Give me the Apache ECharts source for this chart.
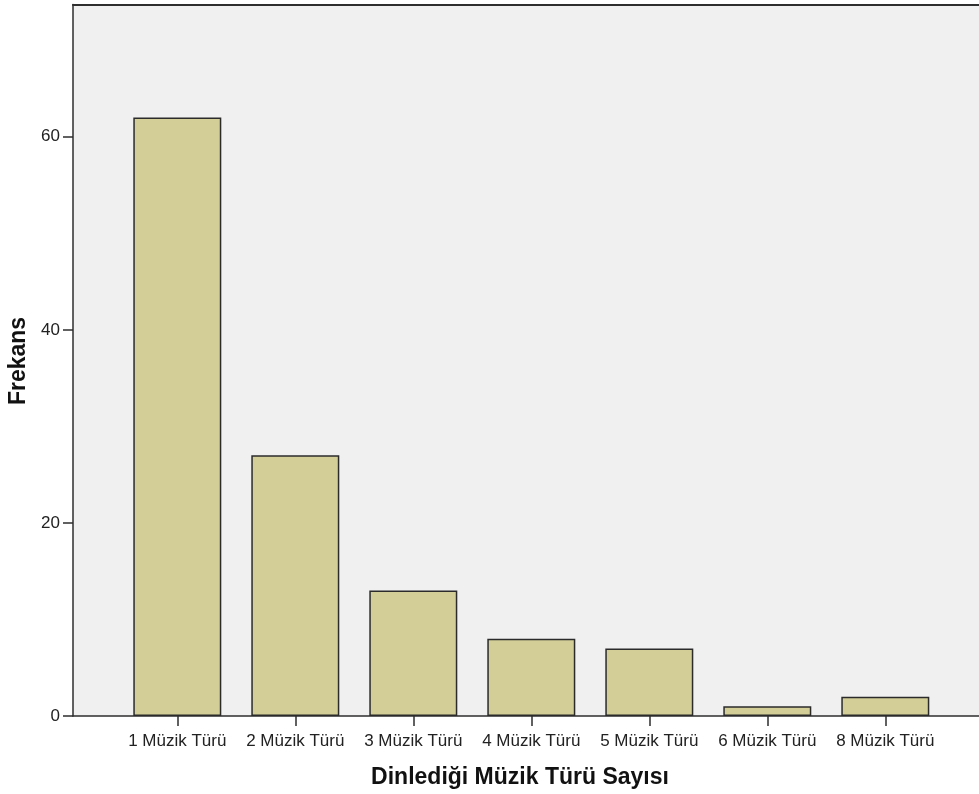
<!DOCTYPE html>
<html><head><meta charset="utf-8">
<script src="https://cdn.jsdelivr.net/npm/echarts@6/dist/echarts.min.js"></script>
<style>html,body{margin:0;padding:0;background:#fff}#c{width:979px;height:794px}</style>
</head><body><div id="c"></div>
<script>
const categories = ['1 Müzik Türü','2 Müzik Türü','3 Müzik Türü','4 Müzik Türü','5 Müzik Türü','6 Müzik Türü','8 Müzik Türü'];
const frequencies = [62, 27, 13, 8, 7, 1, 2];
const yTicks = [0, 20, 40, 60];
const xTitle = 'Dinlediği Müzik Türü Sayısı';
const yTitle = 'Frekans';

const FONT = '"Liberation Sans", Arial, sans-serif';
const YMAX = 73.7;
const LINE = '#2e2e2e';
const chart = echarts.init(document.getElementById('c'), null, {renderer:'canvas'});
chart.setOption({
  animation: false,
  backgroundColor: '#ffffff',
  grid: [
    {left: 73, top: 4.5, width: 920, height: 711.5, show: true, backgroundColor: '#f0f0f0', borderWidth: 0},
    {left: 118.3, top: 4.5, width: 826, height: 711.5}
  ],
  xAxis: [
    {gridIndex: 0, type: 'value', min: 0, max: 1, position: 'bottom',
     axisLine: {show: true, onZero: false, lineStyle: {color: LINE, width: 1.5}},
     axisTick: {show: false}, axisLabel: {show: false}, splitLine: {show: false}},
    {gridIndex: 0, type: 'value', min: 0, max: 1, position: 'top',
     axisLine: {show: true, onZero: false, lineStyle: {color: LINE, width: 2}},
     axisTick: {show: false}, axisLabel: {show: false}, splitLine: {show: false}},
    {gridIndex: 1, type: 'category', data: categories,
     axisLine: {show: false},
     axisTick: {show: true, alignWithLabel: true, length: 10, lineStyle: {color: LINE, width: 1.5}},
     axisLabel: {fontFamily: FONT, fontSize: 17, color: '#222', margin: 17, interval: 0},
     splitLine: {show: false}}
  ],
  yAxis: [
    {gridIndex: 0, type: 'value', min: 0, max: YMAX,
     axisLine: {show: true, onZero: false, lineStyle: {color: LINE, width: 1.5}},
     axisTick: {show: true, length: 10, customValues: yTicks, lineStyle: {color: LINE, width: 1.5}},
     axisLabel: {fontFamily: FONT, fontSize: 17, color: '#222', margin: 13, customValues: yTicks, padding: [4, 0, 0, 0]},
     splitLine: {show: false}},
    {gridIndex: 1, type: 'value', min: 0, max: YMAX, show: false, splitLine: {show: false}}
  ],
  series: [{
    type: 'bar', xAxisIndex: 2, yAxisIndex: 1, data: frequencies, barWidth: 88,
    itemStyle: {color: '#d3ce97', borderColor: '#2b2b2b', borderWidth: 1.5}
  }],
  graphic: [
    {type: 'text', x: 520, y: 778, style: {text: xTitle, font: 'bold 23px ' + FONT, fill: '#111', textAlign: 'center', textVerticalAlign: 'middle'}},
    {type: 'text', rotation: Math.PI/2, x: 19, y: 361, style: {text: yTitle, font: 'bold 23px ' + FONT, fill: '#111', textAlign: 'center', textVerticalAlign: 'middle'}}
  ]
});
</script></body></html>
